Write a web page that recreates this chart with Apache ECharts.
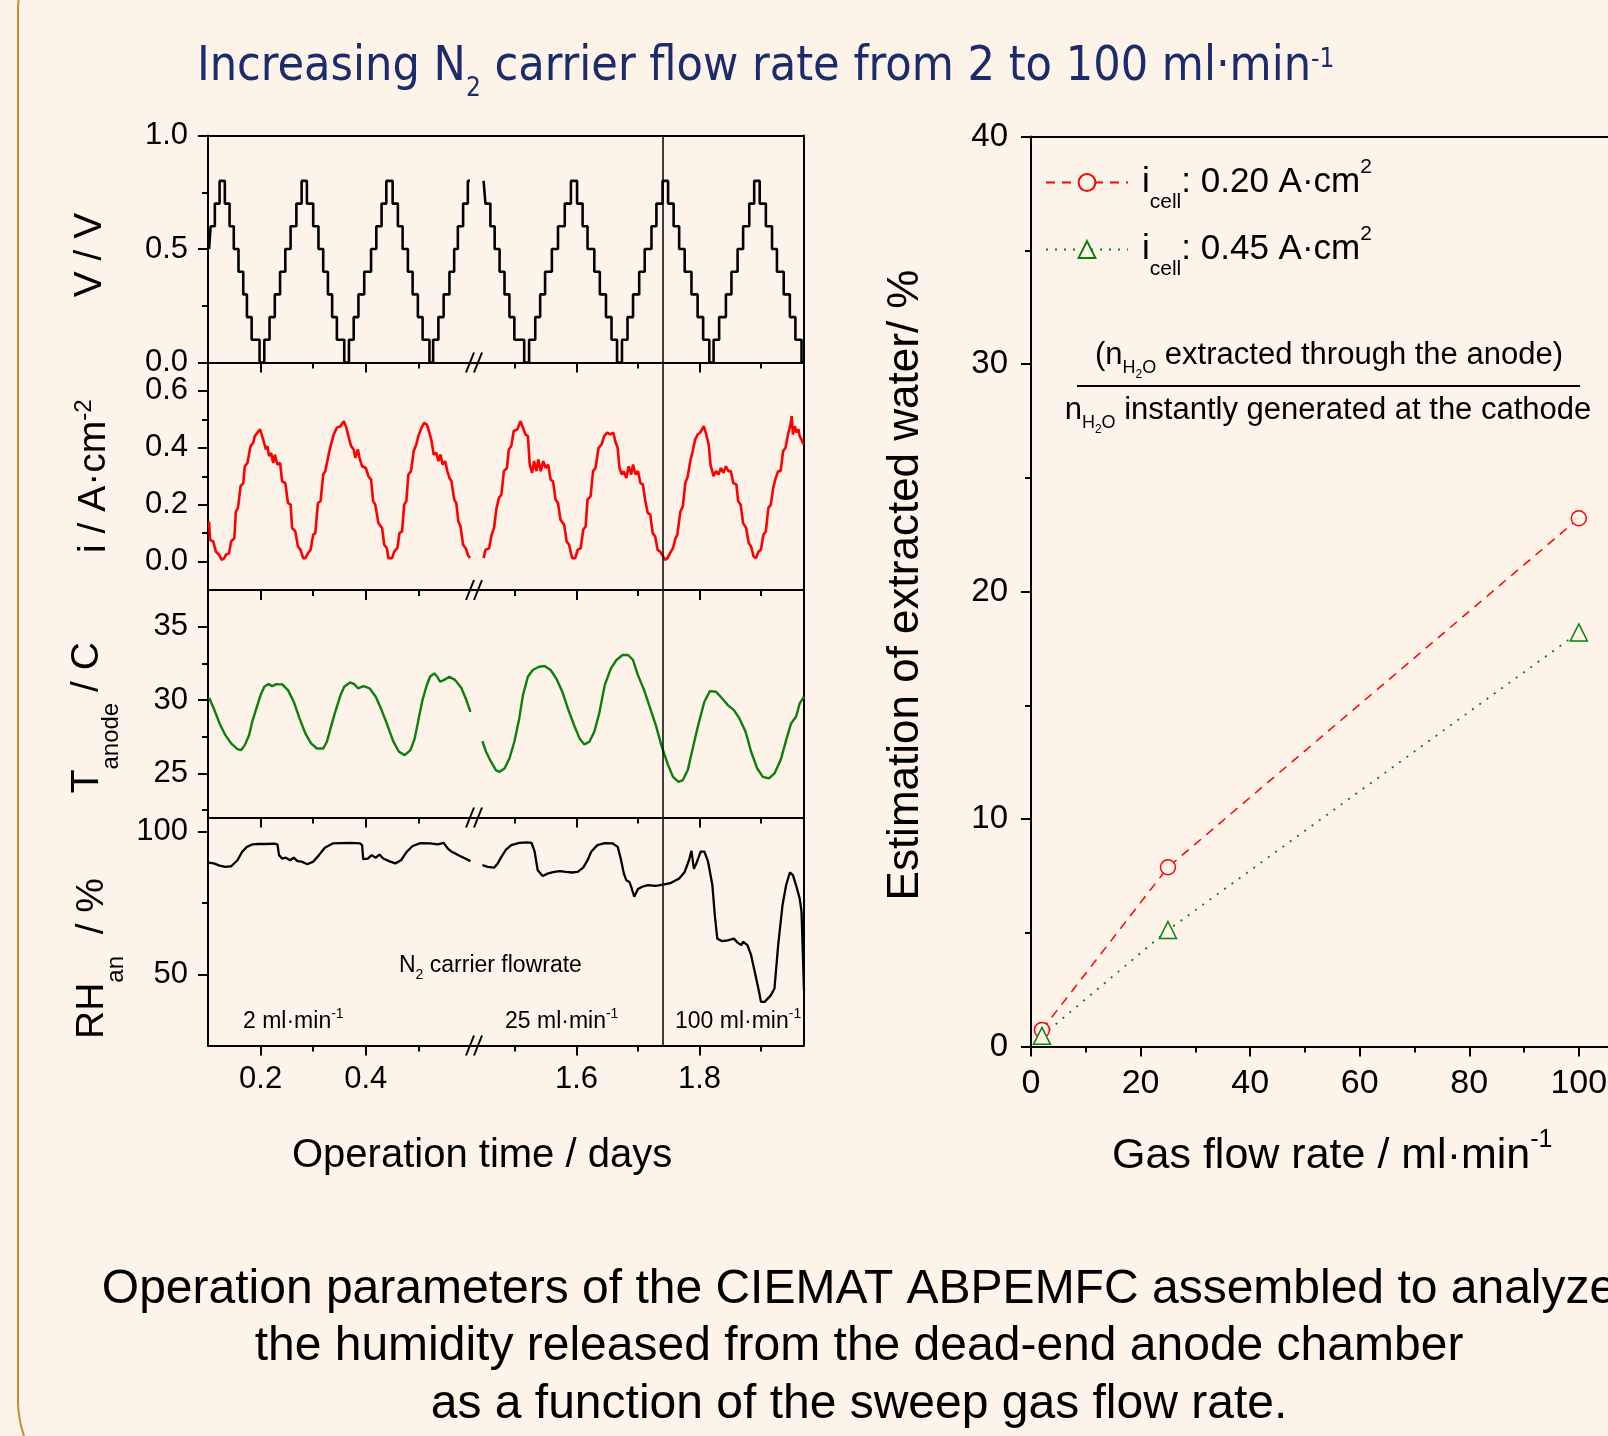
<!DOCTYPE html>
<html>
<head>
<meta charset="utf-8">
<script src="https://cdn.jsdelivr.net/npm/echarts@6/dist/echarts.min.js"></script>
<style>
  html, body { margin: 0; padding: 0; background: #fdf3e9; }
  #chart { width: 1608px; height: 1436px; }
</style>
</head>
<body>
<div id="chart"></div>
<script>
// ---- data ----
// time axis is broken: early part 0.1-0.6 days, late part 1.43-1.97 days
// voltage is a staircase: [day, level] = level that starts at that day
const voltageEarly = [[0.102,0.5],[0.105,0.6],[0.113,0.7],[0.122,0.8],[0.132,0.7],[0.141,0.6],[0.149,0.5],[0.158,0.4],[0.167,0.3],[0.174,0.2],[0.183,0.1],[0.198,0],[0.207,0.1],[0.217,0.2],[0.227,0.3],[0.237,0.4],[0.247,0.5],[0.257,0.6],[0.268,0.7],[0.278,0.8],[0.288,0.7],[0.300,0.6],[0.310,0.5],[0.319,0.4],[0.328,0.3],[0.336,0.2],[0.345,0.1],[0.359,0],[0.368,0.1],[0.377,0.2],[0.386,0.3],[0.397,0.4],[0.410,0.5],[0.420,0.6],[0.430,0.7],[0.439,0.8],[0.451,0.7],[0.461,0.6],[0.470,0.5],[0.480,0.4],[0.489,0.3],[0.499,0.2],[0.508,0.1],[0.521,0],[0.528,0.1],[0.538,0.2],[0.548,0.3],[0.559,0.4],[0.568,0.5],[0.575,0.6],[0.585,0.7],[0.594,0.8],[0.598,0.8]];
const voltageLate = [[1.449,0.8],[1.452,0.7],[1.460,0.6],[1.467,0.5],[1.475,0.4],[1.483,0.3],[1.491,0.2],[1.499,0.1],[1.515,0],[1.523,0.1],[1.533,0.2],[1.541,0.3],[1.549,0.4],[1.560,0.5],[1.570,0.6],[1.581,0.7],[1.591,0.8],[1.601,0.7],[1.610,0.6],[1.618,0.5],[1.629,0.4],[1.638,0.3],[1.648,0.2],[1.657,0.1],[1.666,0],[1.674,0.1],[1.683,0.2],[1.692,0.3],[1.702,0.4],[1.711,0.5],[1.722,0.6],[1.730,0.7],[1.740,0.8],[1.749,0.7],[1.758,0.6],[1.767,0.5],[1.776,0.4],[1.787,0.3],[1.797,0.2],[1.806,0.1],[1.816,0],[1.823,0.1],[1.832,0.2],[1.843,0.3],[1.852,0.4],[1.862,0.5],[1.871,0.6],[1.881,0.7],[1.889,0.8],[1.898,0.7],[1.908,0.6],[1.918,0.5],[1.926,0.4],[1.937,0.3],[1.947,0.2],[1.956,0.1],[1.966,0],[1.969,0]];

const currentEarly = [[0.102,0.141],[0.104,0.076],[0.110,0.071],[0.115,0.035],[0.121,0.024],[0.126,0.006],[0.131,0.012],[0.134,0.024],[0.140,0.029],[0.144,0.071],[0.150,0.082],[0.153,0.176],[0.157,0.188],[0.162,0.265],[0.167,0.276],[0.170,0.335],[0.175,0.347],[0.181,0.406],[0.186,0.418],[0.189,0.441],[0.194,0.453],[0.199,0.465],[0.202,0.459],[0.205,0.429],[0.210,0.394],[0.213,0.406],[0.216,0.371],[0.220,0.382],[0.224,0.347],[0.227,0.376],[0.232,0.341],[0.237,0.347],[0.241,0.282],[0.247,0.276],[0.252,0.206],[0.257,0.200],[0.260,0.118],[0.266,0.106],[0.271,0.053],[0.276,0.041],[0.281,0.012],[0.285,0.012],[0.290,0.029],[0.295,0.041],[0.300,0.094],[0.304,0.100],[0.309,0.206],[0.314,0.212],[0.319,0.306],[0.323,0.318],[0.330,0.382],[0.334,0.412],[0.339,0.447],[0.345,0.471],[0.352,0.476],[0.358,0.494],[0.363,0.471],[0.367,0.441],[0.372,0.406],[0.377,0.394],[0.380,0.365],[0.385,0.394],[0.388,0.365],[0.393,0.335],[0.396,0.341],[0.400,0.329],[0.405,0.300],[0.410,0.288],[0.414,0.212],[0.418,0.200],[0.424,0.135],[0.431,0.118],[0.435,0.059],[0.440,0.047],[0.443,0.012],[0.450,0.012],[0.454,0.035],[0.460,0.047],[0.464,0.100],[0.469,0.106],[0.473,0.200],[0.477,0.212],[0.481,0.306],[0.486,0.318],[0.491,0.388],[0.496,0.412],[0.500,0.441],[0.506,0.471],[0.511,0.488],[0.516,0.482],[0.521,0.453],[0.525,0.424],[0.529,0.376],[0.534,0.382],[0.538,0.353],[0.542,0.376],[0.546,0.341],[0.551,0.353],[0.555,0.318],[0.559,0.294],[0.563,0.282],[0.568,0.218],[0.572,0.206],[0.576,0.141],[0.580,0.124],[0.585,0.059],[0.590,0.047],[0.594,0.024],[0.598,0.012]];
const currentLate = [[1.449,0.012],[1.452,0.041],[1.458,0.047],[1.462,0.094],[1.466,0.118],[1.470,0.188],[1.474,0.224],[1.478,0.235],[1.482,0.318],[1.487,0.329],[1.490,0.394],[1.494,0.406],[1.498,0.459],[1.504,0.465],[1.509,0.494],[1.514,0.465],[1.517,0.447],[1.521,0.441],[1.524,0.341],[1.528,0.312],[1.531,0.353],[1.535,0.318],[1.538,0.359],[1.542,0.318],[1.546,0.353],[1.550,0.329],[1.554,0.341],[1.558,0.288],[1.562,0.282],[1.566,0.218],[1.570,0.206],[1.574,0.147],[1.580,0.129],[1.584,0.071],[1.588,0.059],[1.593,0.012],[1.598,0.012],[1.602,0.041],[1.607,0.047],[1.611,0.112],[1.615,0.124],[1.618,0.218],[1.623,0.229],[1.627,0.318],[1.631,0.329],[1.636,0.400],[1.641,0.412],[1.645,0.441],[1.650,0.453],[1.655,0.447],[1.660,0.453],[1.663,0.424],[1.667,0.400],[1.670,0.329],[1.674,0.306],[1.677,0.318],[1.681,0.294],[1.685,0.335],[1.689,0.306],[1.692,0.341],[1.696,0.306],[1.700,0.318],[1.704,0.276],[1.708,0.271],[1.712,0.212],[1.716,0.171],[1.720,0.165],[1.724,0.100],[1.728,0.088],[1.732,0.041],[1.736,0.035],[1.741,0.018],[1.744,0.006],[1.748,0.012],[1.752,0.029],[1.757,0.047],[1.761,0.082],[1.764,0.094],[1.769,0.176],[1.773,0.194],[1.777,0.276],[1.781,0.300],[1.785,0.353],[1.789,0.388],[1.793,0.429],[1.797,0.447],[1.801,0.453],[1.807,0.476],[1.811,0.447],[1.815,0.412],[1.818,0.341],[1.823,0.300],[1.827,0.318],[1.831,0.306],[1.835,0.329],[1.839,0.312],[1.843,0.335],[1.847,0.318],[1.851,0.318],[1.855,0.276],[1.860,0.271],[1.863,0.212],[1.867,0.200],[1.871,0.135],[1.876,0.118],[1.880,0.065],[1.884,0.053],[1.888,0.018],[1.892,0.012],[1.896,0.035],[1.900,0.041],[1.904,0.094],[1.908,0.106],[1.912,0.188],[1.916,0.200],[1.920,0.259],[1.924,0.294],[1.928,0.318],[1.932,0.318],[1.936,0.388],[1.940,0.400],[1.944,0.447],[1.948,0.482],[1.950,0.512],[1.952,0.447],[1.955,0.476],[1.958,0.453],[1.961,0.465],[1.963,0.441],[1.966,0.429],[1.969,0.412]];

const tempEarly = [[0.102,30.16],[0.111,29.43],[0.122,28.41],[0.133,27.61],[0.144,27.05],[0.156,26.66],[0.163,26.59],[0.170,26.93],[0.178,27.61],[0.185,28.64],[0.193,29.55],[0.200,30.34],[0.207,30.91],[0.215,31.09],[0.222,30.95],[0.230,31.09],[0.241,31.07],[0.252,30.68],[0.263,29.89],[0.274,28.75],[0.285,27.73],[0.296,27.05],[0.307,26.70],[0.319,26.70],[0.326,27.16],[0.333,28.07],[0.341,29.09],[0.352,30.34],[0.359,30.91],[0.370,31.20],[0.378,31.09],[0.385,30.80],[0.396,30.95],[0.407,30.80],[0.419,30.23],[0.430,29.32],[0.441,28.30],[0.452,27.20],[0.463,26.48],[0.474,26.25],[0.485,26.59],[0.493,27.39],[0.500,28.64],[0.507,29.89],[0.515,30.91],[0.522,31.59],[0.530,31.82],[0.536,31.59],[0.541,31.25],[0.548,31.36],[0.559,31.59],[0.570,31.36],[0.582,30.80],[0.590,30.11],[0.599,29.20]];
const tempLate = [[1.447,27.20],[1.453,26.48],[1.461,25.80],[1.469,25.23],[1.475,25.11],[1.483,25.34],[1.491,26.02],[1.499,27.16],[1.507,28.75],[1.513,30.34],[1.521,31.59],[1.529,32.05],[1.539,32.27],[1.548,32.32],[1.558,32.05],[1.567,31.48],[1.577,30.57],[1.586,29.43],[1.596,28.30],[1.605,27.39],[1.613,26.98],[1.621,27.16],[1.629,27.84],[1.637,29.09],[1.646,31.02],[1.656,32.16],[1.665,32.73],[1.675,33.07],[1.684,33.07],[1.692,32.73],[1.700,31.70],[1.710,30.68],[1.719,29.55],[1.729,28.30],[1.738,26.93],[1.748,25.68],[1.757,24.77],[1.766,24.43],[1.773,24.55],[1.781,25.23],[1.789,26.70],[1.798,28.30],[1.808,29.89],[1.817,30.61],[1.827,30.57],[1.837,30.11],[1.846,29.66],[1.856,29.32],[1.865,28.75],[1.875,27.84],[1.884,26.48],[1.894,25.34],[1.903,24.77],[1.913,24.66],[1.922,25.00],[1.932,25.91],[1.941,27.27],[1.949,28.41],[1.957,28.86],[1.963,29.77],[1.970,30.23]];

const rhEarly = [[0.102,89.2],[0.111,88.9],[0.122,88.1],[0.133,87.7],[0.144,87.9],[0.156,90.0],[0.165,93.0],[0.174,94.7],[0.185,95.6],[0.196,95.7],[0.211,95.7],[0.226,95.8],[0.232,95.6],[0.235,91.8],[0.241,90.6],[0.248,90.9],[0.256,90.0],[0.263,90.9],[0.270,89.7],[0.278,89.5],[0.289,88.6],[0.300,89.5],[0.311,91.8],[0.322,94.4],[0.337,95.9],[0.352,96.0],[0.370,96.1],[0.389,95.9],[0.393,95.3],[0.395,90.4],[0.404,90.6],[0.411,91.8],[0.419,90.9],[0.426,92.0],[0.433,90.6],[0.444,89.7],[0.456,88.9],[0.467,90.0],[0.478,93.0],[0.489,95.0],[0.504,96.0],[0.522,95.9],[0.537,95.6],[0.548,96.1],[0.556,94.1],[0.563,93.0],[0.570,92.4],[0.578,91.6],[0.589,90.6],[0.599,89.7]];
const rhLate = [[1.447,88.3],[1.456,87.7],[1.466,87.4],[1.472,88.9],[1.478,91.2],[1.485,93.6],[1.494,95.3],[1.507,96.1],[1.520,96.3],[1.527,96.1],[1.532,93.0],[1.537,86.5],[1.545,84.5],[1.554,85.4],[1.564,85.9],[1.573,86.2],[1.583,85.9],[1.592,85.7],[1.602,85.9],[1.611,87.4],[1.618,90.0],[1.624,93.0],[1.634,95.3],[1.646,96.0],[1.659,95.9],[1.667,94.7],[1.672,90.6],[1.677,85.4],[1.681,83.0],[1.686,82.4],[1.689,80.7],[1.694,77.2],[1.700,79.9],[1.707,80.7],[1.716,81.3],[1.729,81.0],[1.743,81.5],[1.754,82.1],[1.767,83.6],[1.776,85.9],[1.783,90.0],[1.787,93.3],[1.791,87.0],[1.795,88.9],[1.802,93.0],[1.808,93.0],[1.814,89.5],[1.821,81.3],[1.825,70.7],[1.829,62.5],[1.837,61.6],[1.846,61.9],[1.856,62.5],[1.862,61.1],[1.868,60.2],[1.871,61.4],[1.878,60.2],[1.884,56.7],[1.890,50.8],[1.897,43.8],[1.900,40.3],[1.906,40.3],[1.916,42.6],[1.922,45.0],[1.928,60.2],[1.935,74.2],[1.941,81.3],[1.947,85.7],[1.952,84.8],[1.957,81.3],[1.963,76.6],[1.966,71.9],[1.968,57.8],[1.970,44.4]];

const switchDay = 1.742; // 25 -> 100 ml/min change

// tick values
const earlyTicks = [0.2, 0.4], earlyMinorTicks = [0.3, 0.5];
const lateTicks = [1.6, 1.8], lateMinorTicks = [1.5, 1.7, 1.9];
const voltTicks = [0, 0.5, 1.0], voltMinorTicks = [0.25, 0.75];
const currentTicks = [0, 0.2, 0.4, 0.6], currentMinorTicks = [0.1, 0.3, 0.5];
const tempTicks = [25, 30, 35], tempMinorTicks = [22.5, 27.5, 32.5];
const rhTicks = [50, 100], rhMinorTicks = [75];

// right plot
const flowRates = [2, 25, 100];
const waterLowCurrent = [0.73, 7.88, 23.22];
const waterHighCurrent = [0.47, 5.12, 18.2];
const flowTicks = [0, 20, 40, 60, 80, 100], flowMinorTicks = [10, 30, 50, 70, 90];
const waterTicks = [0, 10, 20, 30, 40], waterMinorTicks = [5, 15, 25, 35];

// ---- styling ----
const INK = '#000000';
const FONT = "'Liberation Sans', Arial, sans-serif";
const TITLE_FONT = "'DejaVu Sans Condensed', 'DejaVu Sans', sans-serif";
const NAVY = '#1b2b6c';
const BG = '#fdf3e9';

// rich text with sub/superscripts: main token centred in a box of height L
function richSet(size, small, L, supOff, subOff, color, family) {
  const c = color || INK, f = family || FONT;
  return {
    b: {fontSize: size, fontWeight: 'normal', lineHeight: L, verticalAlign: 'middle', color: c, fontFamily: f},
    sup: {fontSize: small, fontWeight: 'normal', height: L - 2 * supOff, lineHeight: L - 2 * supOff, verticalAlign: 'top', color: c, fontFamily: f},
    sub: {fontSize: small, fontWeight: 'normal', height: L - 2 * subOff, lineHeight: L - 2 * subOff, verticalAlign: 'bottom', color: c, fontFamily: f}
  };
}

const lineStyleInk = {color: INK, width: 2};
const grids = [], xAxes = [], yAxes = [], series = [];

const rowEdges = [135.5, 362.5, 590, 817.5, 1045.5];
const segments = [
  {left: 208, width: 266, min: 0.1, max: 0.6057, major: earlyTicks, minor: earlyMinorTicks},
  {left: 474, width: 330, min: 1.4334, max: 1.97, major: lateTicks, minor: lateMinorTicks}
];

const leftRich = richSet(39, 24, 80, 10, 24);
const panels = [
  {name: '{b|V / V}', min: 0, max: 1, ticks: voltTicks, minor: voltMinorTicks, digits: 1, nameGap: 78, shift: 12, color: INK, width: 2.6, step: 'end', data: [voltageEarly, voltageLate]},
  {name: '{b|i / A·cm}{sup|-2}', min: -0.1, max: 0.7, ticks: currentTicks, minor: currentMinorTicks, digits: 1, nameGap: 74, shift: 0, color: '#ff0000', width: 2.6, data: [currentEarly, currentLate]},
  {name: '{b|T}{sub|anode}{b| / C}', min: 22, max: 37.5, ticks: tempTicks, minor: tempMinorTicks, digits: 0, nameGap: 81, shift: 28, color: '#0a800a', width: 2.4, data: [tempEarly, tempLate]},
  {name: '{b|RH}{sub|an}{b|  / %}', min: 25, max: 105, ticks: rhTicks, minor: rhMinorTicks, digits: 0, nameGap: 72, shift: 54, color: INK, width: 2.3, data: [rhEarly, rhLate]}
];

panels.forEach((p, r) => {
  segments.forEach((seg, s) => {
    const g = grids.length;
    grids.push({left: seg.left, width: seg.width, top: rowEdges[r], height: rowEdges[r + 1] - rowEdges[r], outerBoundsMode: 'none'});

    const xi = xAxes.length;
    xAxes.push({
      gridIndex: g, type: 'value', position: 'bottom', min: seg.min, max: seg.max,
      axisLine: {show: true, onZero: false, lineStyle: lineStyleInk},
      axisTick: {show: true, customValues: seg.major, length: 10, lineStyle: lineStyleInk},
      axisLabel: {show: r === 3, customValues: seg.major, margin: 18, fontSize: 31, color: INK, fontFamily: FONT,
        formatter: v => v.toFixed(1)},
      splitLine: {show: false}
    });
    xAxes.push({
      gridIndex: g, type: 'value', position: 'bottom', min: seg.min, max: seg.max,
      axisLine: {show: false, onZero: false},
      axisTick: {show: true, customValues: seg.minor, length: 6, lineStyle: lineStyleInk},
      axisLabel: {show: false}, splitLine: {show: false}
    });
    if (r === 0) {
      xAxes.push({
        gridIndex: g, type: 'value', position: 'top', min: seg.min, max: seg.max,
        axisLine: {show: true, onZero: false, lineStyle: lineStyleInk},
        axisTick: {show: false}, axisLabel: {show: false}, splitLine: {show: false}
      });
    }

    const yi = yAxes.length;
    if (s === 0) {
      yAxes.push({
        gridIndex: g, type: 'value', position: 'left', min: p.min, max: p.max,
        axisLine: {show: true, onZero: false, lineStyle: lineStyleInk},
        axisTick: {show: true, customValues: p.ticks, length: 10, lineStyle: lineStyleInk},
        axisLabel: {show: true, customValues: p.ticks, margin: 20, fontSize: 31, color: INK, fontFamily: FONT,
          formatter: v => v.toFixed(p.digits)},
        splitLine: {show: false},
        name: p.name, nameLocation: 'middle', nameGap: p.nameGap,
        nameTextStyle: {rich: leftRich, padding: [0, p.shift, 0, 0]}
      });
      yAxes.push({
        gridIndex: g, type: 'value', position: 'left', min: p.min, max: p.max,
        axisLine: {show: false, onZero: false},
        axisTick: {show: true, customValues: p.minor, length: 6, lineStyle: lineStyleInk},
        axisLabel: {show: false}, splitLine: {show: false}
      });
    } else {
      yAxes.push({
        gridIndex: g, type: 'value', position: 'right', min: p.min, max: p.max,
        axisLine: {show: true, onZero: false, lineStyle: lineStyleInk},
        axisTick: {show: false}, axisLabel: {show: false}, splitLine: {show: false}
      });
    }

    const ser = {
      type: 'line', xAxisIndex: xi, yAxisIndex: yi, data: p.data[s],
      symbol: 'none', showSymbol: false, silent: true,
      lineStyle: {color: p.color, width: p.width}
    };
    if (p.step) ser.step = p.step;
    if (s === 1) {
      ser.markLine = {
        silent: true, symbol: ['none', 'none'], label: {show: false},
        lineStyle: {color: INK, width: 1.5, type: 'solid'},
        data: [{xAxis: switchDay}]
      };
    }
    series.push(ser);
  });
});

// ---- right plot: extracted water vs flow rate ----
const rg = grids.length;
grids.push({left: 1031, top: 136.5, width: 602.6, height: 910, outerBoundsMode: 'none'});
const rxi = xAxes.length;
xAxes.push({
  gridIndex: rg, type: 'value', position: 'bottom', min: 0, max: 110,
  axisLine: {show: true, onZero: false, lineStyle: lineStyleInk},
  axisTick: {show: true, customValues: flowTicks, length: 10, lineStyle: lineStyleInk},
  axisLabel: {show: true, customValues: flowTicks, margin: 20, fontSize: 34, color: INK, fontFamily: FONT},
  splitLine: {show: false},
  name: '{b|Gas flow rate / ml·min}{sup|-1}', nameLocation: 'middle', nameGap: 70,
  nameTextStyle: {rich: richSet(43, 25, 80, 16, 0)}
});
xAxes.push({
  gridIndex: rg, type: 'value', position: 'bottom', min: 0, max: 110,
  axisLine: {show: false, onZero: false},
  axisTick: {show: true, customValues: flowMinorTicks, length: 6, lineStyle: lineStyleInk},
  axisLabel: {show: false}, splitLine: {show: false}
});
xAxes.push({
  gridIndex: rg, type: 'value', position: 'top', min: 0, max: 110,
  axisLine: {show: true, onZero: false, lineStyle: lineStyleInk},
  axisTick: {show: false}, axisLabel: {show: false}, splitLine: {show: false}
});
const ryi = yAxes.length;
yAxes.push({
  gridIndex: rg, type: 'value', position: 'left', min: 0, max: 40,
  axisLine: {show: true, onZero: false, lineStyle: lineStyleInk},
  axisTick: {show: true, customValues: waterTicks, length: 10, lineStyle: lineStyleInk},
  axisLabel: {show: true, customValues: waterTicks, margin: 23, fontSize: 33, color: INK, fontFamily: FONT},
  splitLine: {show: false},
  name: 'Estimation of extracted water/ %', nameLocation: 'middle', nameGap: 101,
  nameTextStyle: {fontSize: 44, lineHeight: 48, color: INK, fontFamily: FONT, padding: [0, 0, 0, 13]}
});
yAxes.push({
  gridIndex: rg, type: 'value', position: 'left', min: 0, max: 40,
  axisLine: {show: false, onZero: false},
  axisTick: {show: true, customValues: waterMinorTicks, length: 6, lineStyle: lineStyleInk},
  axisLabel: {show: false}, splitLine: {show: false}
});

series.push({
  name: 'low', type: 'line', xAxisIndex: rxi, yAxisIndex: ryi,
  data: flowRates.map((f, k) => [f, waterLowCurrent[k]]),
  symbol: 'circle', symbolSize: 15,
  itemStyle: {color: BG, borderColor: '#ff0000', borderWidth: 1.5},
  lineStyle: {color: '#ff0000', width: 1.5, type: [9, 7]}
});
series.push({
  name: 'high', type: 'line', xAxisIndex: rxi, yAxisIndex: ryi,
  data: flowRates.map((f, k) => [f, waterHighCurrent[k]]),
  symbol: 'triangle', symbolSize: 17,
  itemStyle: {color: BG, borderColor: '#0a800a', borderWidth: 1.5},
  lineStyle: {color: '#0a800a', width: 1.8, type: [2, 7]}
});

const legendRich = richSet(35, 21, 44, 15, 20);
legendRich.i = Object.assign({}, legendRich.b, {padding: [0, 0, 0, 9]});
const legendText = {
  low: '{i|i}{sub|cell}{b|: 0.20 A·cm}{sup|2}',
  high: '{i|i}{sub|cell}{b|: 0.45 A·cm}{sup|2}'
};

const noteRich = richSet(23, 14, 40, 8, 9);
const fracRich = {
  b: {fontSize: 31, lineHeight: 60, verticalAlign: 'middle', color: INK, fontFamily: FONT},
  h: {fontSize: 18, height: 34, lineHeight: 34, verticalAlign: 'bottom', color: INK, fontFamily: FONT},
  d: {fontSize: 12, height: 20, lineHeight: 20, verticalAlign: 'bottom', color: INK, fontFamily: FONT}
};

function text(x, y, str, rich, align, extra) {
  return Object.assign({
    type: 'text', x: x, y: y, silent: true, z: 50,
    style: {text: str, rich: rich, align: align || 'left', verticalAlign: 'middle',
      textAlign: align || 'left', textVerticalAlign: 'middle', fill: INK, fontFamily: FONT}
  }, extra || {});
}

const breakMarks = [];
rowEdges.slice(1).forEach(y => {
  [0, 8].forEach(dx => breakMarks.push({
    type: 'line', silent: true, z: 60,
    shape: {x1: 466 + dx, y1: y + 10, x2: 474 + dx, y2: y - 10},
    style: {stroke: INK, lineWidth: 2}
  }));
});

const chart = echarts.init(document.getElementById('chart'), null, {renderer: 'canvas'});
chart.setOption({
  animation: false,
  backgroundColor: BG,
  textStyle: {fontFamily: FONT, color: INK},
  title: {
    text: '{b|Increasing N}{sub|2}{b| carrier flow rate from 2 to 100 ml·min}{sup|-1}',
    left: 197, top: 36, padding: 0,
    textStyle: {fontWeight: 'normal', rich: richSet(48, 26, 64, 8, 21, NAVY, TITLE_FONT)}
  },
  legend: {
    left: 1045, top: 157, orient: 'vertical', padding: 0,
    itemWidth: 82, itemHeight: 21, itemGap: 11,
    data: ['low', 'high'],
    formatter: name => legendText[name],
    textStyle: {rich: legendRich},
    selectedMode: false
  },
  grid: grids,
  xAxis: xAxes,
  yAxis: yAxes,
  series: series,
  graphic: [
    {type: 'rect', silent: true, z: -10,
      shape: {x: 18, y: -100, width: 1700, height: 1611, r: 111},
      style: {fill: 'none', stroke: '#c98a2e', lineWidth: 2}},
    ...breakMarks,
    text(399, 966, '{b|N}{sub|2}{b| carrier flowrate}', noteRich),
    text(243, 1022, '{b|2 ml·min}{sup|-1}', noteRich),
    text(505, 1022, '{b|25 ml·min}{sup|-1}', noteRich),
    text(675, 1022, '{b|100 ml·min}{sup|-1}', noteRich),
    text(292, 1156, 'Operation time / days', null, 'left', {style: {text: 'Operation time / days', fontSize: 40, fontFamily: FONT, fill: INK, align: 'left', verticalAlign: 'middle', textAlign: 'left', textVerticalAlign: 'middle'}}),
    text(1329, 355, '{b|(n}{h|H}{d|2}{h|O}{b| extracted through the anode)}', fracRich, 'center'),
    {type: 'line', silent: true, z: 50, shape: {x1: 1077, y1: 386, x2: 1580, y2: 386}, style: {stroke: INK, lineWidth: 2}},
    text(1328, 410, '{b|n}{h|H}{d|2}{h|O}{b| instantly generated at the cathode}', fracRich, 'center'),
    {type: 'text', silent: true, z: 50, x: 859, y: 1261,
      style: {text: 'Operation parameters of the CIEMAT ABPEMFC assembled to analyze\nthe humidity released from the dead-end anode chamber\nas a function of the sweep gas flow rate.',
        fontSize: 48, lineHeight: 57.5, fontFamily: FONT, fill: INK,
        align: 'center', verticalAlign: 'top', textAlign: 'center', textVerticalAlign: 'top'}}
  ]
});
</script>
</body>
</html>
